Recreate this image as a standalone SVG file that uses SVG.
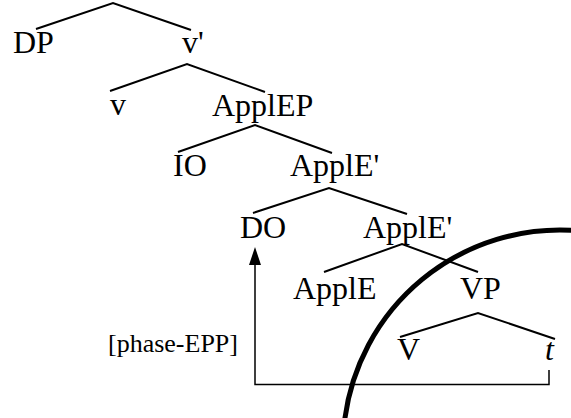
<svg xmlns="http://www.w3.org/2000/svg" width="571" height="418" viewBox="0 0 571 418">
<defs>
<style>
.lbl{font-family:"Liberation Serif","Times New Roman",serif;font-size:32px;fill:#000}
.sm{font-family:"Liberation Serif","Times New Roman",serif;font-size:26px;fill:#000}
.br{fill:none;stroke:#000;stroke-width:2}
.mv{fill:none;stroke:#000;stroke-width:1.5}
</style>
</defs>
<rect width="571" height="418" fill="#fff"/>
<g id="connectors">
<polyline class="br" points="36,29 113,3 191,30"/>
<polyline class="br" points="110,91 187,64 265,92"/>
<polyline class="br" points="178,152 255,125 332,153"/>
<polyline class="br" points="253,213 329,188 407,214"/>
<polyline class="br" points="324,272 402,244 478,272"/>
<polyline class="br" points="400,337 478,313 555,339"/>
<path class="mv" d="M549 370 V384.5 H255 V265"/>
<path d="M255 247 L261 265 L249 265 Z" fill="#000"/>
</g>
<g id="DP"><text class="lbl" x="13" y="53">DP</text></g>
<g id="vbar"><text class="lbl" x="182" y="53">v'</text></g>
<g id="v"><text class="lbl" x="110" y="115">v</text></g>
<g id="ApplEP"><text class="lbl" x="212" y="116">ApplEP</text></g>
<g id="IO"><text class="lbl" x="173" y="176">IO</text></g>
<g id="ApplEbar1"><text class="lbl" x="290" y="176">ApplE'</text></g>
<g id="DO"><text class="lbl" x="240" y="238">DO</text></g>
<g id="ApplEbar2"><text class="lbl" x="363" y="238">ApplE'</text></g>
<g id="ApplE"><text class="lbl" x="293" y="299">ApplE</text></g>
<g id="VP"><text class="lbl" x="460" y="299">VP</text></g>
<g id="V"><text class="lbl" x="397" y="360">V</text></g>
<g id="t"><text class="lbl" x="545" y="360" font-style="italic">t</text></g>
<g id="phaseEPP"><text class="sm" x="108" y="352">[phase-EPP]</text></g>
<g id="phase-boundary"><path d="M344.7 420 A217 217 0 0 1 575 230.5" fill="none" stroke="#000" stroke-width="5"/></g>
</svg>
